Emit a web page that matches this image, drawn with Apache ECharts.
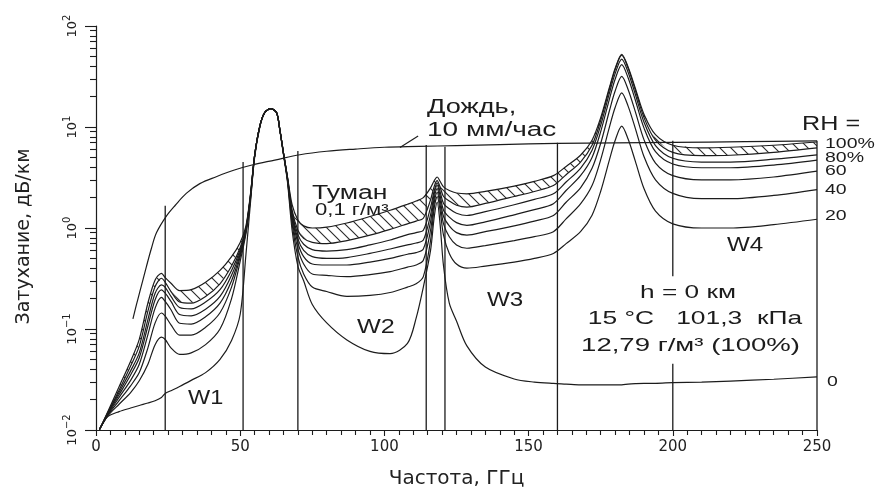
<!DOCTYPE html>
<html>
<head>
<meta charset="utf-8">
<script src="https://cdn.jsdelivr.net/npm/echarts@6/dist/echarts.min.js"></script>
<style>
html,body{margin:0;padding:0;background:#ffffff;}
#chart{width:878px;height:494px;}
</style>
</head>
<body>
<div id="chart"></div>
<script>
// ---------- data (frequency in GHz, attenuation in dB/km) ----------
const freqGHz = [1.2,4,8,12,15,18,20.5,22.7,24,26,29,33,38,43,47,50,
  52,53.5,55,56.8,58.5,60.6,62.6,63.7,65.1,66.4,
  68,70,72,75,80,87,95,102,108,111,113.5,
  116,117.3,118.3,119.3,120.5,122.5,125,
  128.6,135,145,152,158.6,
  163,168,172,175,178,180,182.3,184.5,187,190,194,
  200,210,220,235,250];

const rh100fog = [0.0101,0.015,0.0268,0.048,0.079,0.181,0.306,0.356,0.323,0.284,0.24,0.245,0.29,0.38,0.52,0.72,
  1.05,2.1,5.2,10.2,13.9,15.2,13.9,9.6,5.3,3.2,
  1.7,1.2,1.05,1.0,1.02,1.12,1.3,1.5,1.72,1.85,2.0,
  2.5,2.95,3.2,2.9,2.55,2.35,2.22,
  2.18,2.3,2.6,2.9,3.3,
  4.07,5.25,7.4,12.4,24.5,38,52.5,39.3,24.2,13.4,8.4,
  6.6,6.2,6.3,6.6,7.1];
const rh100 = [0.0101,0.0147,0.0248,0.043,0.0677,0.15,0.263,0.318,0.29,0.235,0.185,0.18,0.21,0.28,0.42,0.64,
  1.0,2.05,5.2,10.2,13.9,15.2,13.9,9.6,5.3,3.15,
  1.5,0.95,0.79,0.72,0.7,0.75,0.85,0.97,1.1,1.17,1.25,
  1.9,2.6,2.95,2.55,2.05,1.85,1.68,
  1.61,1.75,2.05,2.3,2.63,
  3.37,4.5,6.6,11.6,23.6,37,51.5,38.3,23.2,12.4,7.4,
  5.6,5.2,5.25,5.6,6.2];
const rh90 = [0.0101,0.0145,0.0235,0.0385,0.058,0.124,0.226,0.273,0.258,0.21,0.163,0.158,0.185,0.245,0.38,0.61,
  0.98,2.0,5.2,10.2,13.9,15.2,13.9,9.6,5.3,3.1,
  1.42,0.86,0.69,0.61,0.59,0.61,0.68,0.76,0.86,0.9,0.95,
  1.6,2.35,2.8,2.3,1.75,1.55,1.4,
  1.33,1.45,1.7,1.92,2.18,
  2.85,3.9,5.9,10.4,21.5,33.8,47,34.9,21.1,11.2,6.55,
  4.9,4.5,4.5,4.8,5.3];
const rh80 = [0.0101,0.0143,0.0223,0.0351,0.052,0.107,0.195,0.244,0.226,0.1875,0.139,0.135,0.157,0.21,0.34,0.58,
  0.96,2.0,5.2,10.2,13.9,15.2,13.9,9.6,5.3,3.1,
  1.35,0.78,0.6,0.52,0.5,0.51,0.56,0.62,0.68,0.71,0.76,
  1.35,2.2,2.65,2.1,1.5,1.28,1.13,
  1.06,1.15,1.35,1.52,1.74,
  2.35,3.3,5.0,9.0,18.8,29.7,41.4,30.7,18.5,9.8,5.7,
  4.3,3.95,3.95,4.2,4.7];
const rh60 = [0.0101,0.0141,0.021,0.031,0.0447,0.088,0.161,0.206,0.1875,0.155,0.114,0.112,0.132,0.18,0.3,0.55,
  0.94,1.95,5.2,10.2,13.9,15.2,13.9,9.6,5.3,3.05,
  1.28,0.71,0.52,0.44,0.43,0.43,0.46,0.5,0.55,0.57,0.62,
  1.15,2.0,2.45,1.9,1.3,1.05,0.9,
  0.85,0.92,1.05,1.17,1.33,
  1.8,2.5,3.9,6.9,14.4,22.7,31.7,23.5,14.2,7.5,4.4,
  3.3,3.0,3.0,3.2,3.65];
const rh40 = [0.0101,0.0139,0.0195,0.0274,0.037,0.065,0.115,0.144,0.134,0.11,0.087,0.087,0.104,0.145,0.26,0.52,
  0.92,1.9,5.2,10.2,13.9,15.2,13.9,9.6,5.3,3.0,
  1.2,0.62,0.44,0.35,0.34,0.33,0.345,0.37,0.41,0.43,0.48,
  0.95,1.8,2.25,1.7,1.1,0.82,0.68,
  0.63,0.67,0.75,0.82,0.92,
  1.23,1.73,2.63,4.75,9.9,15.6,21.8,16.1,9.7,5.1,3.0,
  2.2,1.95,1.95,2.1,2.4];
const rh20 = [0.0101,0.0137,0.018,0.0235,0.0307,0.0447,0.07,0.083,0.0787,0.065,0.056,0.058,0.07,0.1,0.2,0.47,
  0.88,1.85,5.1,10.1,13.9,15.2,13.9,9.5,5.2,2.95,
  1.1,0.52,0.35,0.26,0.235,0.21,0.215,0.23,0.26,0.28,0.33,
  0.75,1.6,2.05,1.5,0.85,0.56,0.44,
  0.40,0.42,0.46,0.5,0.56,
  0.7,0.92,1.34,2.31,4.7,7.36,10.2,7.6,4.6,2.46,1.47,
  1.1,1.0,1.0,1.08,1.22];
const rh0 = [0.0101,0.0135,0.0152,0.0165,0.0175,0.0185,0.0195,0.021,0.023,0.0245,0.027,0.031,0.037,0.05,0.077,0.14,
  0.55,1.7,5.0,10.0,13.8,15.2,13.8,9.4,5.1,2.85,
  0.95,0.42,0.3,0.175,0.115,0.078,0.06,0.057,0.072,0.128,0.26,
  0.6,1.3,1.8,1.1,0.42,0.18,0.12,
  0.068,0.042,0.032,0.0298,0.0289,
  0.0285,0.028,0.028,0.028,0.028,0.028,0.028,0.0285,0.0288,0.029,0.029,
  0.0295,0.0298,0.0305,0.0318,0.0336];

const rainFreq = [12.8,14,15.2,17.5,19.2,21,24.4,27.5,31.3,36,41.7,48,54.4,62,70.7,80,90,100,112,125,140,160,180,200,225,250];
const rainVal  = [0.126,0.173,0.234,0.417,0.627,0.90,1.31,1.68,2.2,2.75,3.22,3.75,4.23,4.7,5.31,5.75,6.05,6.3,6.42,6.55,6.7,6.87,6.97,7.03,7.15,7.3];

// window boundary lines: [frequency, from, to]
const boundaryLines = [[24,0.01,1.66],[51,0.01,4.5],[70,0.01,5.8],[114.5,0.01,6.65],[121,0.01,6.36],
  [160,0.01,7.0],[200,0.01,0.0454],[200,0.333,7.3],[250,0.01,7.3]];
const rainLeader = [[105.4,6.27],[111.7,8.16]];

const yMajorTicks = [0.01,0.1,1,10,100];
const yMinorTicks = [];
yMajorTicks.slice(0,4).forEach(d => { for (let k = 2; k <= 9; k++) yMinorTicks.push(+(d*k).toPrecision(2)); });

// ---------- chart ----------
const chart = echarts.init(document.getElementById('chart'));
const INK = '#1c1c1c';
const AX_FONT = '"DejaVu Sans", sans-serif';
const TXT_FONT = '"Liberation Sans", Arial, sans-serif';

const pat = document.createElement('canvas');
pat.width = 11; pat.height = 11;
const pg = pat.getContext('2d');
pg.strokeStyle = '#2a2a2a'; pg.lineWidth = 1.1;
pg.beginPath();
pg.moveTo(0,0); pg.lineTo(11,11);
pg.moveTo(-1,10); pg.lineTo(1,12);
pg.moveTo(10,-1); pg.lineTo(12,1);
pg.stroke();

const toPairs = (xs, ys) => xs.map((x, i) => [x, ys[i]]);
const lineSt = { color: INK, width: 1.2 };
function curve(name, ys, extra) {
  return Object.assign({
    type: 'line', name: name, data: toPairs(freqGHz, ys),
    symbol: 'none', showSymbol: false, smooth: 0.3, lineStyle: lineSt, silent: true, z: 3
  }, extra || {});
}

// hatched fog band between RH 100% and RH 100% + fog
const fogBand = {
  type: 'custom', name: 'Туман 0,1 г/м³', coordinateSystem: 'cartesian2d', silent: true, z: 1,
  data: [[freqGHz[0], rh100[0]]],
  renderItem: function (params, api) {
    if (params.dataIndex !== 0) return null;
    const top = freqGHz.map((f, i) => api.coord([f, rh100fog[i]]));
    const bot = freqGHz.map((f, i) => api.coord([f, rh100[i]])).reverse();
    return { type: 'polygon', shape: { points: top.concat(bot) },
      style: { fill: { image: pat, repeat: 'repeat' }, stroke: null } };
  }
};

const series = [
  fogBand,
  curve('RH 100% + туман', rh100fog),
  curve('RH 100%', rh100),
  curve('RH 90%', rh90),
  curve('RH 80%', rh80),
  curve('RH 60%', rh60),
  curve('RH 40%', rh40),
  curve('RH 20%', rh20),
  curve('RH 0%', rh0),
  { type: 'line', name: 'Дождь 10 мм/час', data: toPairs(rainFreq, rainVal), symbol: 'none', smooth: 0.35, lineStyle: lineSt, silent: true, z: 3 },
  { type: 'line', name: 'leader', data: rainLeader, symbol: 'none', lineStyle: { color: INK, width: 1.1 }, silent: true, z: 3 }
];
boundaryLines.forEach((b, i) => {
  series.push({ type: 'line', name: 'boundary' + i, data: [[b[0], b[1]], [b[0], b[2]]], symbol: 'none',
    lineStyle: { color: INK, width: 1.3 }, silent: true, z: 2 });
});

const SX = 1.36;
function label(text, x, y, size, opt) {
  opt = opt || {};
  const al = opt.align || 'left';
  return {
    type: 'text', x: x, y: y, scaleX: opt.sx || SX, silent: true, z: 10,
    style: { text: text, fill: INK, font: size + 'px ' + TXT_FONT,
      align: al, verticalAlign: 'middle', textAlign: al, textVerticalAlign: 'middle' }
  };
}
const texts = [
  label('Дождь,', 427, 107, 20),
  label('10 мм/час', 427, 130, 20, { sx: 1.4 }),
  label('Туман', 312, 193, 20, { sx: 1.33 }),
  label('0,1 г/м³', 315, 211, 16, { sx: 1.38 }),
  label('RH =', 802, 124, 20, { sx: 1.26 }),
  label('100%', 825, 143.5, 15, { sx: 1.3 }),
  label('80%', 825, 158, 15, { sx: 1.3 }),
  label('60', 825, 171, 15, { sx: 1.3 }),
  label('40', 825, 190, 15, { sx: 1.3 }),
  label('20', 825, 216, 15, { sx: 1.3 }),
  label('0', 827, 381.5, 15, { sx: 1.3 }),
  label('W1', 188, 398, 21, { sx: 1.12 }),
  label('W2', 357, 327, 21, { sx: 1.2 }),
  label('W3', 487, 300.5, 21, { sx: 1.15 }),
  label('W4', 727, 245.5, 21, { sx: 1.15 }),
  label('h = 0 км', 688, 293, 19, { align: 'center', sx: 1.38 }),
  label('15 °C   101,3  кПа', 695, 319, 19, { align: 'center', sx: 1.39 }),
  label('12,79 г/м³ (100%)', 690.5, 346, 19, { align: 'center', sx: 1.45 })
];

const option = {
  animation: false,
  backgroundColor: '#ffffff',
  grid: { left: 96, top: 26, width: 721, height: 407, containLabel: false },
  xAxis: {
    type: 'value', min: 0, max: 250, interval: 50,
    axisLine: { show: true, onZero: false, lineStyle: { color: INK, width: 1.2 } },
    axisTick: { show: true, inside: false, length: 6, lineStyle: { color: INK, width: 1.1 } },
    minorTick: { show: true, splitNumber: 10, length: 5, lineStyle: { color: INK, width: 1.1 } },
    axisLabel: { color: '#222', fontFamily: AX_FONT, fontSize: 15, margin: 10 },
    splitLine: { show: false }, minorSplitLine: { show: false },
    name: 'Частота, ГГц', nameLocation: 'middle', nameGap: 39,
    nameTextStyle: { fontFamily: AX_FONT, fontSize: 20, color: '#222' }
  },
  yAxis: [{
    type: 'log', logBase: 10, min: 0.01, max: 100,
    axisLine: { show: true, lineStyle: { color: INK, width: 1.2 } },
    axisTick: { show: true, inside: false, length: 11, lineStyle: { color: INK, width: 1.1 } },
    axisLabel: {
      rotate: 90, margin: 17,
      formatter: function (v) { const e = Math.round(Math.log10(v)); return '{b|10}{s|' + (e < 0 ? '\u2212' + (-e) : String(e)) + '}'; },
      rich: {
        b: { fontFamily: AX_FONT, fontSize: 13, color: '#222', lineHeight: 17, verticalAlign: 'bottom' },
        s: { fontFamily: AX_FONT, fontSize: 10, color: '#222', lineHeight: 17, verticalAlign: 'top' }
      }
    },
    splitLine: { show: false },
    name: 'Затухание, дБ/км', nameLocation: 'middle', nameRotate: 90, nameGap: 62,
    nameTextStyle: { fontFamily: AX_FONT, fontSize: 19, color: '#222', padding: [0, 17, 0, 0] }
  }, {
    type: 'log', logBase: 10, min: 0.01, max: 100, position: 'left',
    axisLine: { show: false }, axisLabel: { show: false }, splitLine: { show: false },
    axisTick: { show: true, inside: false, length: 6, customValues: yMinorTicks, lineStyle: { color: INK, width: 1.1 } }
  }],
  series: series,
  graphic: { elements: texts }
};
chart.setOption(option);
</script>
</body>
</html>
